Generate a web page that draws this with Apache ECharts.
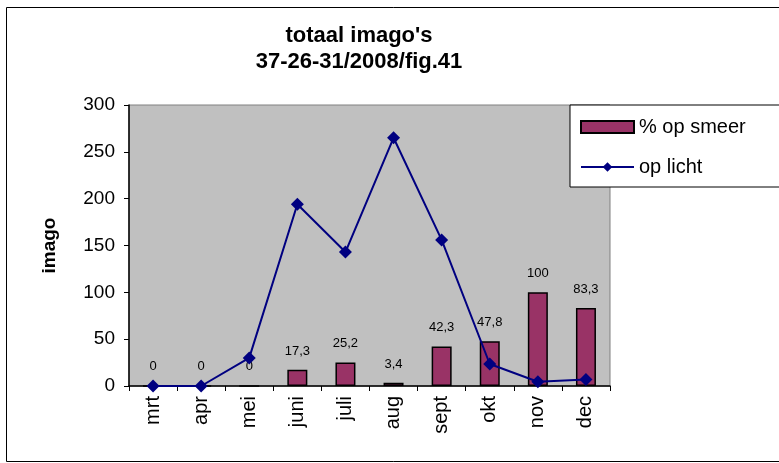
<!DOCTYPE html>
<html>
<head>
<meta charset="utf-8">
<script src="https://cdn.jsdelivr.net/npm/echarts@6/dist/echarts.min.js"></script>
<style>html,body{margin:0;padding:0;background:#fff}#c{width:779px;height:463px}</style>
</head>
<body>
<div id="c"></div>
<script>
var categories = ['mrt','apr','mei','juni','juli','aug','sept','okt','nov','dec'];
var smeer = [0, 0, 0, 17.3, 25.2, 3.4, 42.3, 47.8, 100, 83.3];
var licht = [0, 0, 30, 194, 143, 265, 156, 23.5, 4.5, 7];
var yTicks = [0, 50, 100, 150, 200, 250, 300];

var chart = echarts.init(document.getElementById('c'));
chart.setOption({
  animation: false,
  textStyle: {fontFamily: 'Liberation Sans, Arial, sans-serif'},
  graphic: [{
    type: 'rect', z: -10,
    shape: {x: 6.5, y: 7.5, width: 800, height: 454},
    style: {fill: '#fff', stroke: '#000', lineWidth: 1}
  }],
  title: {
    text: "totaal imago's\n37-26-31/2008/fig.41",
    left: 354, top: 18, textAlign: 'center',
    textStyle: {fontSize: 22, fontWeight: 'bold', color: '#000', lineHeight: 26, fontFamily: 'Liberation Sans, Arial, sans-serif'}
  },
  legend: {
    left: 570, top: 105, width: 220, height: 80,
    orient: 'vertical',
    backgroundColor: '#fff', borderColor: '#000', borderWidth: 1,
    padding: [12, 40, 10, 10],
    itemGap: 20,
    itemWidth: 53, itemHeight: 12,
    textStyle: {fontSize: 20, color: '#000', fontFamily: 'Liberation Sans, Arial, sans-serif'},
    data: [
      {name: '% op smeer', icon: 'rect'},
      {name: 'op licht'}
    ]
  },
  grid: {
    left: 129, top: 105, right: 169, bottom: 77,
    show: true, backgroundColor: '#C0C0C0', borderColor: '#808080', borderWidth: 1
  },
  xAxis: {
    type: 'category', data: categories,
    axisLine: {lineStyle: {color: '#000', width: 1.5}},
    axisTick: {show: true, length: 5, lineStyle: {color: '#000'}},
    axisLabel: {rotate: 90, fontSize: 20, color: '#000', margin: 10}
  },
  yAxis: {
    type: 'value', min: yTicks[0], max: yTicks[yTicks.length - 1], interval: 50,
    name: 'imago', nameLocation: 'middle', nameGap: 70,
    nameTextStyle: {fontSize: 19, fontWeight: 'bold', color: '#000'},
    axisLine: {show: true, lineStyle: {color: '#000', width: 1.5}},
    axisTick: {show: true, length: 5, lineStyle: {color: '#000'}},
    axisLabel: {fontSize: 19, color: '#000', margin: 14},
    splitLine: {show: false}
  },
  series: [{
    name: '% op smeer', type: 'bar', data: smeer, barWidth: 20,
    itemStyle: {color: '#993366', borderColor: '#000', borderWidth: 1.5},
    label: {
      show: true, position: 'top', distance: 12, fontSize: 13, color: '#000',
      formatter: function (p) { return String(p.value).replace('.', ','); }
    }
  }, {
    name: 'op licht', type: 'line', data: licht,
    symbol: 'diamond', symbolSize: 13,
    lineStyle: {color: '#000080', width: 2},
    itemStyle: {color: '#000080'}
  }]
});
</script>
</body>
</html>
